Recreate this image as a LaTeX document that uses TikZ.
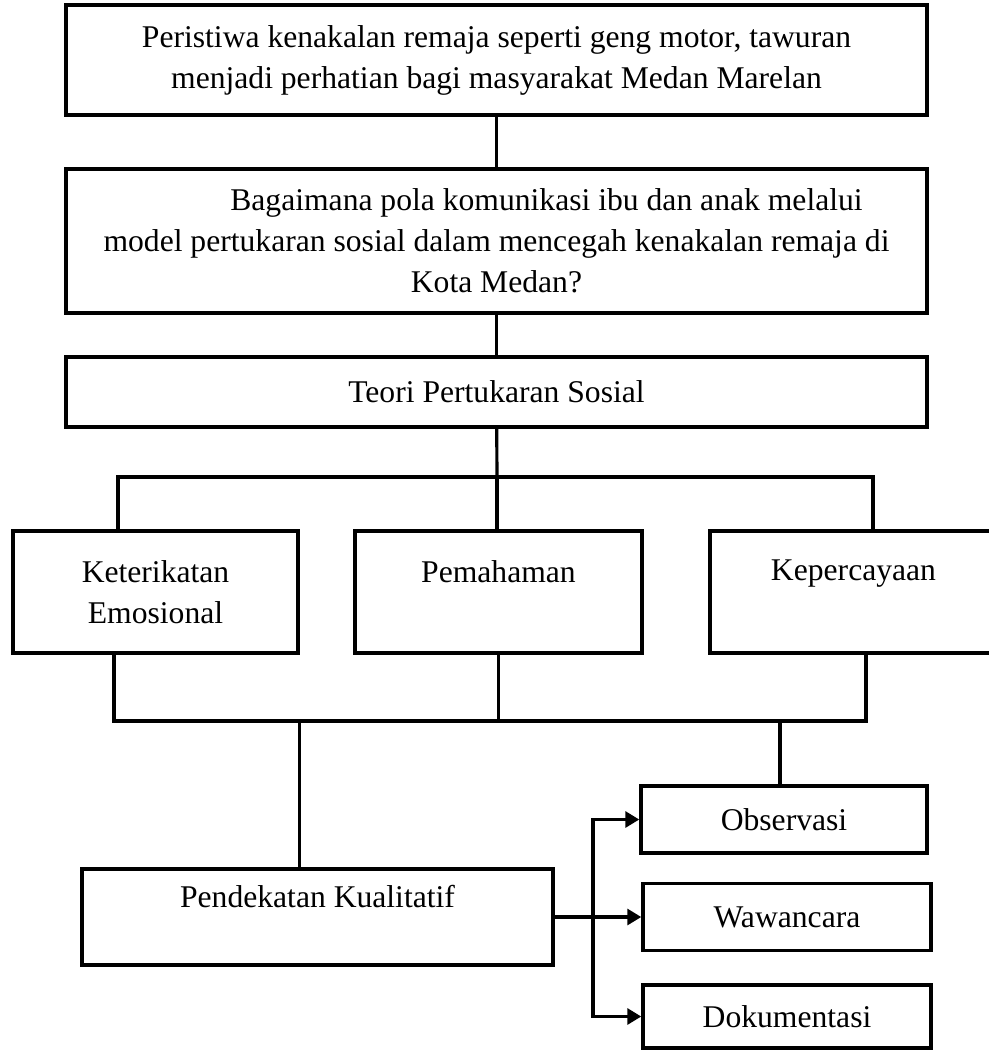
\documentclass[tikz,border=0pt]{standalone}
\usepackage{fontspec}
\setmainfont{Liberation Serif}
\usetikzlibrary{arrows.meta}

\newcommand{\boxfont}{\fontsize{18}{23.3}\selectfont}
\newcommand{\widebox}{17.22cm}
\newcommand{\aspectbox}{5.74cm}

\begin{document}
\begin{tikzpicture}[x=0.02cm,y=-0.02cm,
	box/.style={draw,rectangle,line width=2pt,inner sep=0pt,align=center,font=\boxfont},
	link/.style={line width=1.8pt},
	>={Triangle[length=0.28cm,width=0.32cm]}]
	\clip (0,0) rectangle (989,1051);
	%The boxes down the middle
	\node[box,minimum width=\widebox,minimum height=2.2cm] (peristiwa) at (496.5,60) {Peristiwa kenakalan remaja seperti geng motor, tawuran\\menjadi perhatian bagi masyarakat Medan Marelan};
	\node[box,minimum width=\widebox,minimum height=2.88cm] (rumusan) at (496.5,241) {\hspace*{2cm}Bagaimana pola komunikasi ibu dan anak melalui\\model pertukaran sosial dalam mencegah kenakalan remaja di\\Kota Medan?};
	\node[box,minimum width=\widebox,minimum height=1.4cm] (teori) at (496.5,392) {Teori Pertukaran Sosial};
	%The three aspects
	\node[box,minimum width=5.7cm,minimum height=2.44cm] (emosi) at (155.5,592) {Keterikatan\\Emosional};
	\node[box,minimum width=\aspectbox,minimum height=2.44cm] (paham) at (498.5,592) {Pemahaman\\~};
	\node[box,minimum width=\aspectbox,minimum height=2.44cm] (percaya) at (853.5,592) {Kepercayaan\\[2pt]~};
	%Method and data collection
	\node[box,minimum width=9.42cm,minimum height=1.92cm] (kualitatif) at (317.5,917) {Pendekatan Kualitatif\\~};
	\node[box,minimum width=5.72cm,minimum height=1.34cm] (observasi) at (784,819.5) {Observasi};
	\node[box,minimum width=5.76cm,minimum height=1.34cm] (wawancara) at (787,917) {Wawancara};
	\node[box,minimum width=5.76cm,minimum height=1.26cm] (dokumentasi) at (787,1016.5) {Dokumentasi};
	%Join points of the lines
	\coordinate (split) at (497,477);
	\coordinate (merge) at (497,721);
	\coordinate (trunk) at (593,917);
	%Draw the lines between the boxes
	\begin{scope}[link]
		\draw (peristiwa) -- (rumusan);
		\draw (rumusan) -- (teori);
		\draw (teori) -- (split);
		\draw ([xshift=-0.75cm]emosi.north) |- (split) -| ([xshift=0.39cm]percaya.north);
		\draw (split) -- (split |- paham.north);
		\draw ([xshift=-0.83cm]emosi.south) |- (merge) -| ([xshift=0.25cm]percaya.south);
		\draw (paham.south) -- (paham.south |- merge);
		\draw ([xshift=-0.36cm]kualitatif.north) -- ([xshift=-0.36cm]kualitatif.north |- merge);
		\draw ([xshift=-0.08cm]observasi.north) -- ([xshift=-0.08cm]observasi.north |- merge);
		\draw[->] (kualitatif.east) -- (wawancara.west);
		\draw[<->] (observasi.west) -| (trunk) |- (dokumentasi.west);
	\end{scope}
\end{tikzpicture}
\end{document}
